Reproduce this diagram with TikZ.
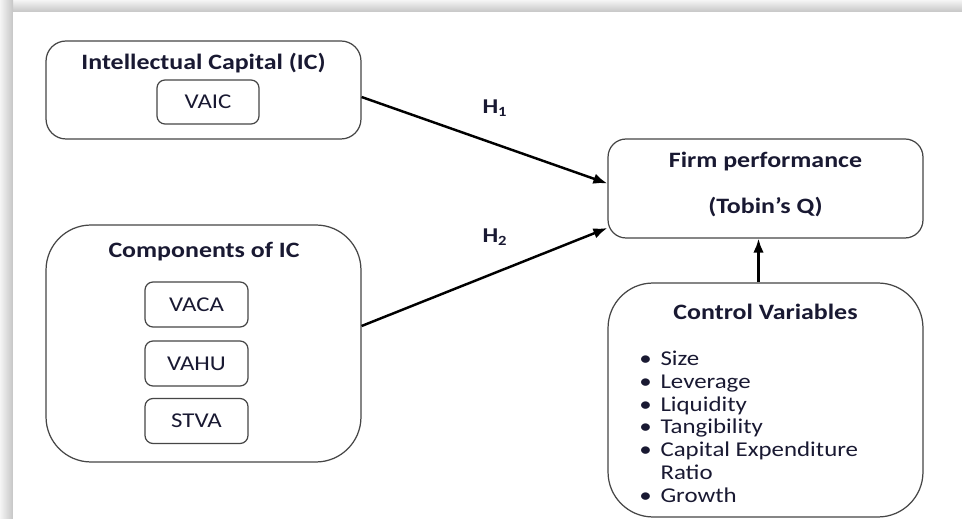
\documentclass[tikz,border=0pt]{standalone}
\usepackage{fontspec}
\setmainfont{Carlito}[FakeStretch=1.18]
\usetikzlibrary{arrows.meta}
\definecolor{ink}{RGB}{25,25,50}
\definecolor{boxline}{RGB}{70,70,70}

\begin{document}
\begin{tikzpicture}[x=0.02cm, y=-0.02cm,
    bigbox/.style = {draw=boxline, line width=0.7pt, inner sep=0pt,
        minimum width=6.3cm},
    smallbox/.style = {draw=boxline, line width=0.7pt, rounded corners=0.16cm,
        minimum width=2.06cm, minimum height=0.9cm, text=ink,
        font=\fontsize{12}{14}\selectfont},
    heading/.style = {text=ink, font=\fontsize{12.5}{15}\selectfont\bfseries},
    hyp/.style = {text=ink, font=\fontsize{12}{14}\selectfont\bfseries}]
    \useasboundingbox (0,0) rectangle (962,519);
    % page shadow
    \fill[white] (0,0) rectangle (962,519);
    \shade[top color=gray!8, bottom color=gray!45] (0,0) rectangle (962,12);
    \shade[left color=gray!8, right color=gray!45] (0,0) rectangle (13,519);
    \fill[white] (13,12) rectangle (962,519);

    \node[bigbox, rounded corners=0.4cm, minimum height=1.96cm] (ic) at (203.5, 90) {};
    \node[heading] (ictitle) at (203.5, 63) {Intellectual Capital (IC)};
    \node[smallbox, minimum width=2.04cm, minimum height=0.88cm] (vaic) at (208, 102) {VAIC};

    \node[bigbox, rounded corners=0.9cm, minimum height=4.74cm] (comp) at (203.5, 343.5) {};
    \node[heading] (comptitle) at (204, 252) {Components of IC};
    \node[smallbox] (vaca) at (196.5, 304.5) {VACA};
    \node[smallbox] (vahu) at (196.5, 363.5) {VAHU};
    \node[smallbox] (stva) at (196.5, 421) {STVA};

    \node[bigbox, rounded corners=0.36cm, minimum height=1.98cm] (firm) at (765.5, 188.5) {};
    \node[heading] (firmtitle) at (765.5, 162) {Firm performance};
    \node[heading] (tobin) at (765.5, 207) {(Tobin’s Q)};

    \node[bigbox, rounded corners=0.9cm, minimum height=4.68cm] (ctrl) at (765.5, 400) {};
    \node[heading] (ctrltitle) at (765.5, 312) {Control Variables};
    \node[anchor=north west, inner sep=0pt, text=ink,
        font=\fontsize{12}{13}\selectfont] (vars) at (639, 349) {%
        \begin{tabular}{@{}l@{\hspace{5pt}}l@{}}
            \textbullet & Size\\
            \textbullet & Leverage\\
            \textbullet & Liquidity\\
            \textbullet & Tangibility\\
            \textbullet & Capital Expenditure\\
                        & Ratio\\
            \textbullet & Growth
        \end{tabular}};

    \node[hyp] (h1) at (495, 108) {H\textsubscript{1}};
    \node[hyp] (h2) at (495, 237) {H\textsubscript{2}};

    \path[-{Latex[length=8pt, width=6pt]}, line width=1.4pt]
        ([yshift=-0.14cm]ic.east) edge ([yshift=0.1cm]firm.west)
        ([yshift=0.35cm]comp.east) edge ([yshift=-0.79cm]firm.west)
        ([xshift=-0.14cm]ctrl.north) edge ([xshift=-0.14cm]firm.south);
\end{tikzpicture}
\end{document}
